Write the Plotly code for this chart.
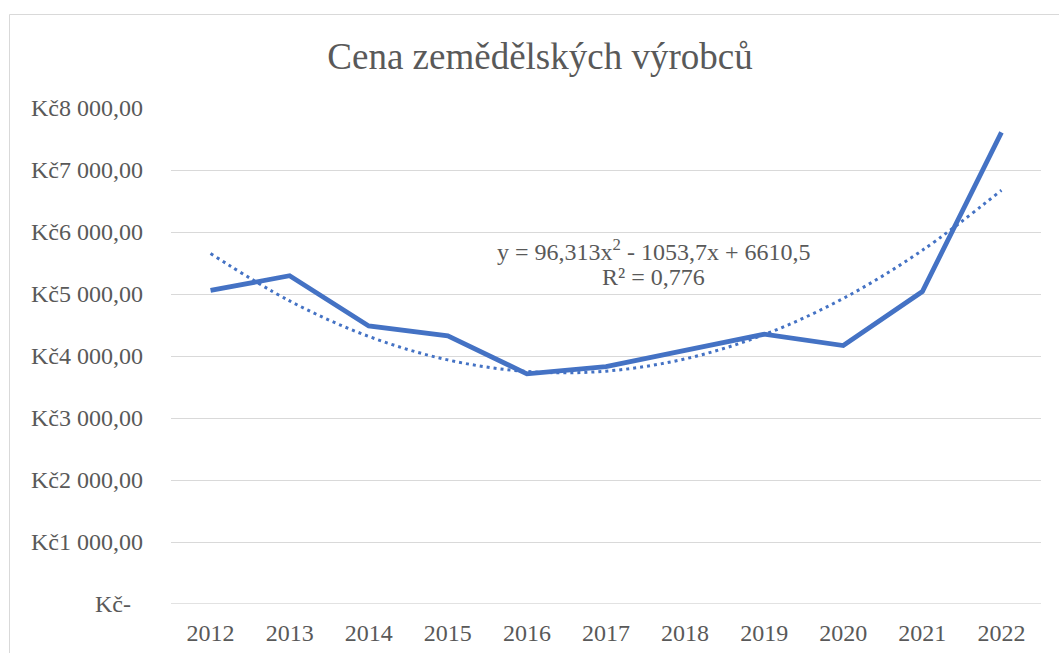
import plotly.graph_objects as go

years = ["2012", "2013", "2014", "2015", "2016", "2017", "2018", "2019", "2020", "2021", "2022"]
price = [5058, 5295, 4485, 4325, 3712, 3828, 4090, 4352, 4168, 5040, 7606]
trend = [5653, 4888, 4316, 3937, 3750, 3756, 3954, 4345, 4929, 5705, 6674]
y_ticks = [0, 1000, 2000, 3000, 4000, 5000, 6000, 7000, 8000]
y_labels = ["Kč-\u00a0\u00a0", "Kč1 000,00", "Kč2 000,00", "Kč3 000,00", "Kč4 000,00",
            "Kč5 000,00", "Kč6 000,00", "Kč7 000,00", "Kč8 000,00"]
title = "Cena zemědělských výrobců"
eq_line1 = "y = 96,313x<sup>2</sup> - 1053,7x + 6610,5"
eq_line2 = "R² = 0,776"

BLUE = "#4472C4"
GREY = "#595959"
GRID = "#D9D9D9"
FONT = "Liberation Serif, Times New Roman, serif"

W, H = 1059, 653
L, R, T, B = 171, 18, 108, 49
pw, ph = W - L - R, H - T - B

def px_x(x):
    return (x - L) / pw

def px_y(y):
    return (H - B - y) / ph

fig = go.Figure()
fig.add_trace(go.Scatter(
    x=years, y=trend, mode="lines", line=dict(color=BLUE, width=3, dash="3px,4px", shape="spline"),
    hoverinfo="skip", showlegend=False))
fig.add_trace(go.Scatter(
    x=years, y=price, mode="lines", line=dict(color=BLUE, width=4.8),
    showlegend=False))

fig.add_shape(type="rect", xref="paper", yref="paper",
              x0=px_x(9.5), x1=px_x(1070), y0=px_y(670), y1=px_y(14.5),
              line=dict(color=GRID, width=1), fillcolor="rgba(0,0,0,0)", layer="below")
fig.add_shape(type="line", xref="paper", yref="y", x0=0, x1=1, y0=0, y1=0,
              line=dict(color=GRID, width=1.3), layer="below")

fig.add_annotation(text=eq_line1, xref="paper", yref="paper",
                   x=px_x(653), y=px_y(250), xanchor="center", yanchor="middle",
                   showarrow=False, align="center",
                   font=dict(family=FONT, size=24, color=GREY))
fig.add_annotation(text=eq_line2, xref="paper", yref="paper",
                   x=px_x(653), y=px_y(277), xanchor="center", yanchor="middle",
                   showarrow=False, align="center",
                   font=dict(family=FONT, size=24, color=GREY))

fig.update_layout(
    width=W, height=H,
    margin=dict(l=L, r=R, t=T, b=B, autoexpand=False),
    paper_bgcolor="white", plot_bgcolor="white",
    title=dict(text=title, x=540 / W, xanchor="center", xref="container",
               y=1 - 56 / H, yanchor="middle", yref="container",
               font=dict(family=FONT, size=37, color=GREY)),
    font=dict(family=FONT, size=24, color=GREY),
    xaxis=dict(type="category", range=[-0.5, 10.5], showgrid=False, zeroline=False,
               showline=False, ticks="", tickfont=dict(family=FONT, size=24, color=GREY),
               ticklabelstandoff=12, automargin=False),
    yaxis=dict(range=[0, 8000], tickvals=y_ticks, ticktext=y_labels, showgrid=True,
               gridcolor=GRID, gridwidth=1.3, zeroline=False, showline=False, ticks="",
               tickfont=dict(family=FONT, size=24, color=GREY), ticklabelstandoff=27,
               automargin=False),
)

fig.write_html("out.html", config={"displayModeBar": False},
               post_script="document.body.style.margin='0';")
